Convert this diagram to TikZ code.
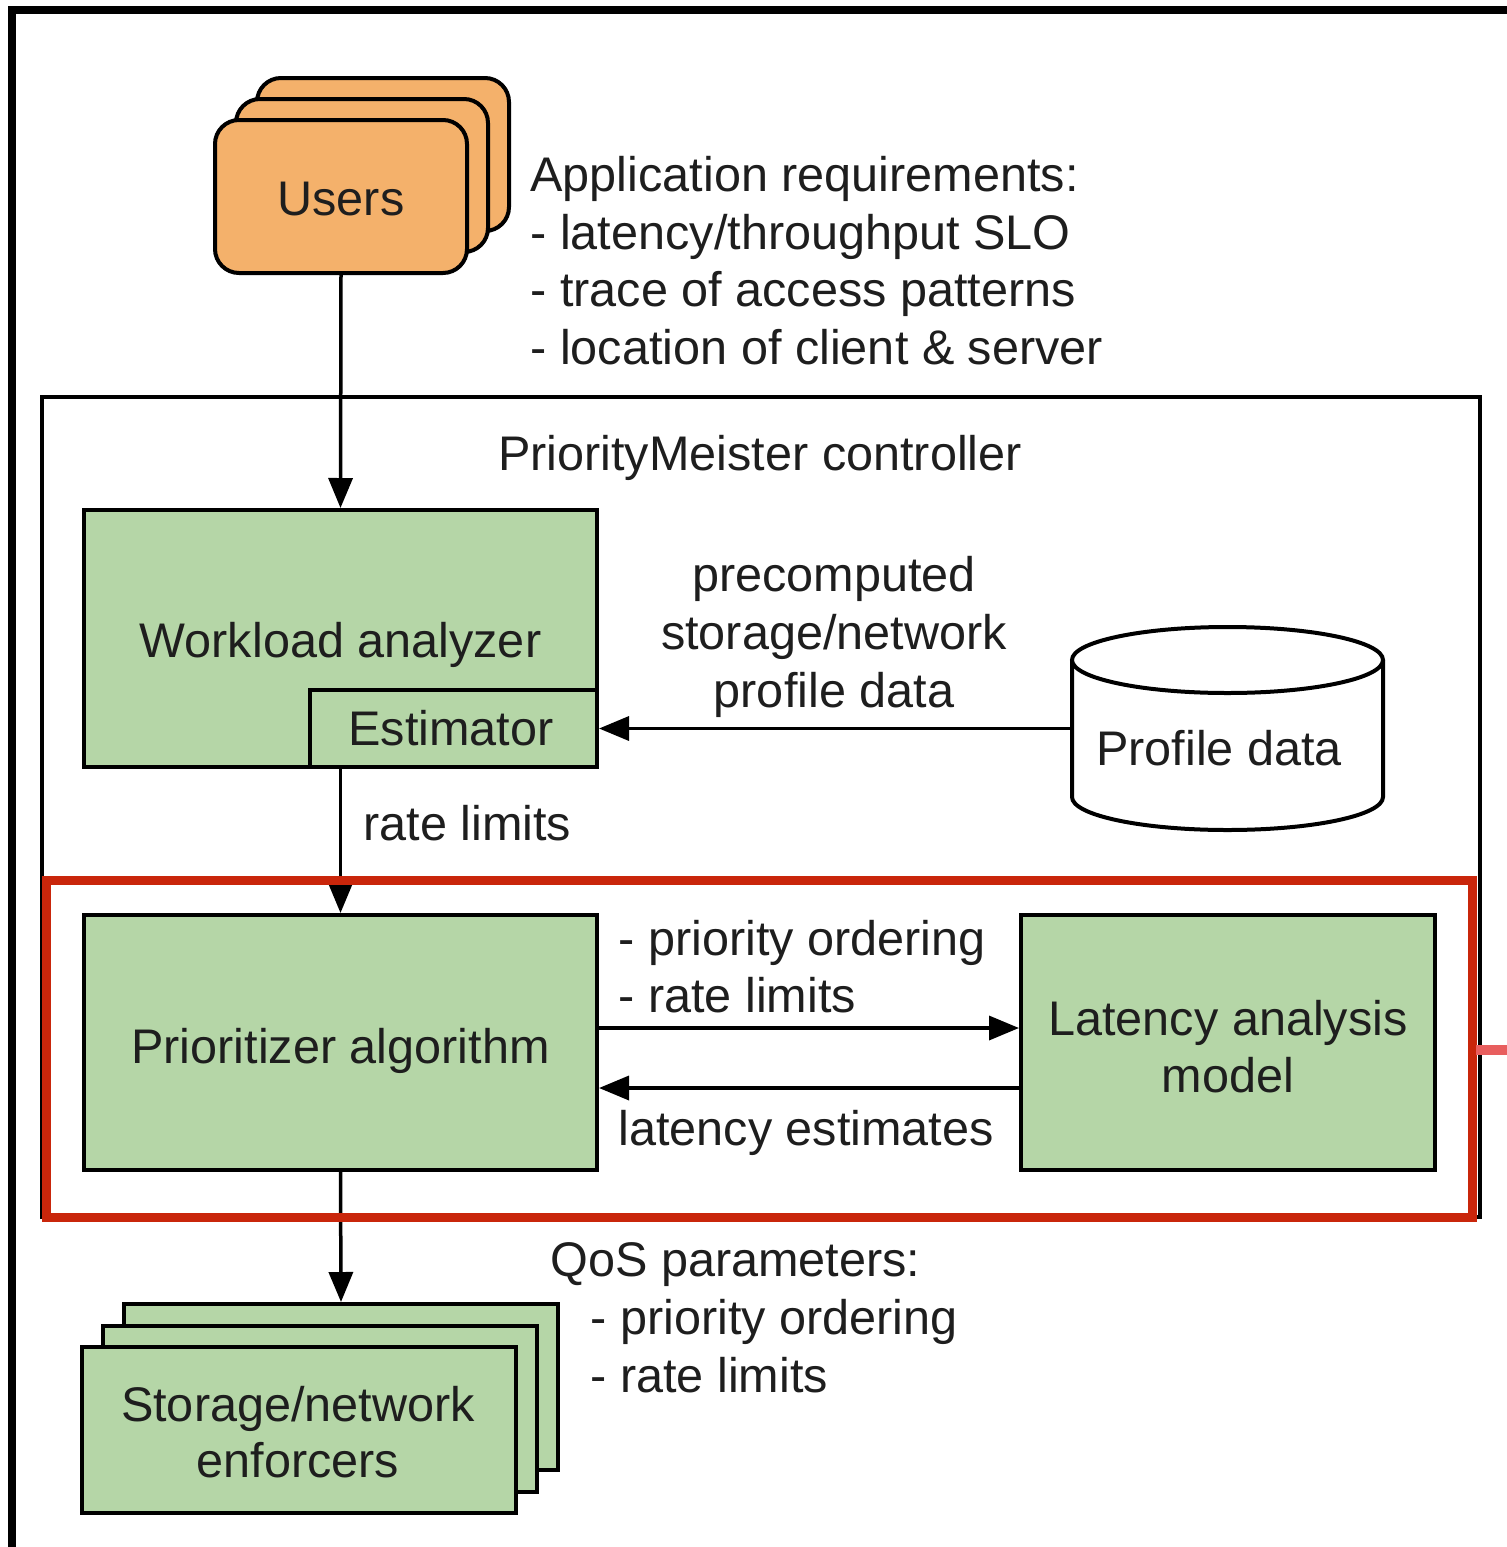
\documentclass[tikz,border=0pt]{standalone}
\usepackage{fontspec}
\setmainfont{Liberation Sans}
\usetikzlibrary{arrows.meta}

\definecolor{boxgreen}{HTML}{B5D6A7}
\definecolor{userorange}{HTML}{F4B16B}
\definecolor{ink}{HTML}{1E1E1E}
\definecolor{hilite}{HTML}{C9260B}
\definecolor{stub}{HTML}{E85E5E}

\begin{document}
\begin{tikzpicture}[x=0.5pt,y=-0.5pt,
  font=\fontsize{24.3}{29}\selectfont,
  txt/.style={anchor=base, inner sep=0pt, text=ink},
  ltxt/.style={anchor=base west, inner sep=0pt, text=ink},
  gbox/.style={draw=black, line width=2pt, fill=boxgreen, inner sep=0pt},
  ubox/.style={draw=black, line width=2pt, fill=userorange, rounded corners=12pt,
               inner sep=0pt, minimum width=126pt, minimum height=76.5pt},
  ebox/.style={gbox, minimum width=217pt, minimum height=83pt},
  link/.style={draw=black, line width=1.75pt, -{Triangle[length=15pt,width=12pt]}},
]
\useasboundingbox (0,0) rectangle (1506,1547);
\fill[white] (0,0) rectangle (1506,1547);

% outer frame
\draw[line width=4pt] (12,1560) -- (12,10) -- (1520,10);

% controller frame
\draw[line width=1.6pt] (42,397) rectangle (1480,1217);
\node[txt] (ctl) at (760,470) {PriorityMeister controller};

% users stack
\node[ubox] (u3) at (383,154.5) {};
\node[ubox] (u2) at (362,175.5) {};
\node[ubox] (users) at (341,196.5) {};
\node[txt] (usersT) at (341,215) {Users};

% application requirements
\node[ltxt] (req1) at (530,191) {Application requirements:};
\node[ltxt] (req2) at (530,249) {- latency/throughput SLO};
\node[ltxt] (req3) at (530,306) {- trace of access patterns};
\node[ltxt] (req4) at (530,364) {- location of client \& server};

% workload analyzer with estimator
\node[gbox, minimum width=256.5pt, minimum height=128.5pt] (wa) at (340.5,638.5) {};
\node[txt] (waT) at (340.5,657) {Workload analyzer};
\node[gbox, minimum width=143.5pt, minimum height=38.5pt] (est) at (453.5,728.5) {};
\node[txt] (estT) at (451,745) {Estimator};

% profile data store
\node[inner sep=0pt, minimum width=155.5pt, minimum height=101.5pt] (pd) at (1227.5,728.5) {};
\draw[line width=2pt, fill=white]
  (1072,660) -- (1072,797)
  arc[start angle=180, end angle=360, x radius=77.75pt, y radius=16.5pt]
  -- (1383,660);
\draw[line width=2pt, fill=white] (1227.5,660) ellipse [x radius=77.75pt, y radius=16.5pt];
\node[txt] (pdT) at (1219,765) {Profile data};

\node[txt] (pre1) at (834,591) {precomputed};
\node[txt] (pre2) at (834,649) {storage/network};
\node[txt] (pre3) at (834,707) {profile data};

% prioritizer and latency model
\node[gbox, minimum width=256.5pt, minimum height=127.5pt] (pa) at (340.5,1042.5) {};
\node[txt] (paT) at (340.5,1063) {Prioritizer algorithm};
\node[gbox, minimum width=207pt, minimum height=127.5pt] (lam) at (1228,1042.5) {};
\node[txt] (lamT1) at (1228,1035) {Latency analysis};
\node[txt] (lamT2) at (1228,1092) {model};

\coordinate (fwd) at (0,1028);
\coordinate (back) at (0,1088);
\node[ltxt] (po) at (618,955) {- priority ordering};
\node[ltxt] (rl) at (618,1012) {- rate limits};
\node[ltxt] (le) at (618,1145) {latency estimates};

% enforcers stack
\node[ebox] (e3) at (341,1387) {};
\node[ebox] (e2) at (320,1408.5) {};
\node[ebox] (enf) at (299,1430) {};
\node[txt] (enfT1) at (298,1421) {Storage/network};
\node[txt] (enfT2) at (298,1477) {enforcers};

\node[ltxt] (qos1) at (550,1276) {QoS parameters:};
\node[ltxt] (qos2) at (590,1334) {- priority ordering};
\node[ltxt] (qos3) at (590,1392) {- rate limits};

% connectors
\draw[link] (users.south) -- (wa.north);
\draw[link] (pd.west) -- (est.east);
\draw[link] (wa.south) -- (pa.north);
\node[ltxt] (rlT) at (363,840) {rate limits};
\draw[link] (pa.east |- fwd) -- (lam.west |- fwd);
\draw[link] (lam.west |- back) -- (pa.east |- back);
\draw[link] (pa.south) -- (e3.north);

% highlighted region
\draw[hilite, line width=4.5pt] (46,880) rectangle (1472,1217);
\draw[stub, line width=5pt] (1476,1050) -- (1520,1050);
\end{tikzpicture}
\end{document}
